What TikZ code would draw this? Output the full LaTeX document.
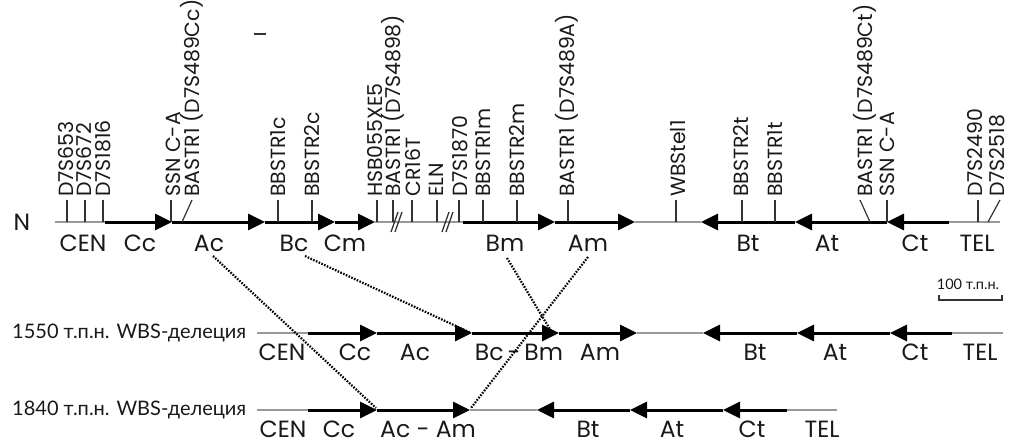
\documentclass[tikz,border=0pt]{standalone}
\usepackage{fontspec}
\setmainfont{Poppins}
\newfontfamily\cyr{Lato}
\usetikzlibrary{arrows.meta}
\tikzset{
  greyline/.style={draw=black!40, line width=1.6pt},
  seg/.style={draw=black, line width=3pt, -{Triangle[length=17pt,width=16pt]}},
  tickline/.style={draw=black!80, line width=1.2pt},
  mlab/.style={font=\fontsize{20.5}{21}\selectfont, rotate=90, anchor=west, inner sep=0pt, text=black!90},
  blab/.style={font=\fontsize{23.5}{24}\selectfont, inner sep=1pt, text=black!90},
  rowlab/.style={font=\cyr\fontsize{20}{20}\selectfont, anchor=west, inner sep=0pt, text=black!90},
  dotline/.style={draw=black, line width=2.2pt, dash pattern=on 1.6pt off 1.4pt},
  slash/.style={draw=black!80, line width=1.3pt}
}
\begin{document}
\begin{tikzpicture}[x=1pt,y=-1pt]
\useasboundingbox (0,0) rectangle (1010,445);
% ---------------- main row (N) ----------------
\node[blab] (N) at (22,222) {N};
\foreach \a/\b in {55/105,375/463,635/701,949/1000}
  \draw[greyline] (\a,222) -- (\b,222);
\foreach \a/\b in {105/172,172/265,265/335,335/375,463/555,555/635,795/701,887/795,949/887}
  \draw[seg] (\a,222) -- (\b,222);
\foreach \x in {67,85,103,171,278,312,377,393,412,437,459,483,517,568,676,742,775,887,978}
  \draw[tickline] (\x,200) -- (\x,222);
\draw[tickline] (192,200) -- (182,222);
\draw[tickline] (860,200) -- (870,222);
\draw[tickline] (1000,200) -- (988,222);
% double slashes
\draw[slash] (391,232) -- (398,212);
\draw[slash] (395,232) -- (402,212);
\draw[slash] (442,232) -- (449,212);
\draw[slash] (446,232) -- (453,212);
% marker labels
\node[mlab] (m1) at (66,197) {D7S653};
\node[mlab] (m2) at (84,197) {D7S672};
\node[mlab] (m3) at (103,197) {D7S1816};
\node[mlab] (m4) at (173,197) {SSN C-A};
\node[mlab] (m5) at (192,197) {BASTR1 (D7S489Cc)};
\node[mlab] (m6) at (278,197) {BBSTR1c};
\node[mlab] (m7) at (312,197) {BBSTR2c};
\node[mlab] (m8) at (375,197) {HSB055XE5};
\node[mlab] (m9) at (393,197) {BASTR1 (D7S4898)};
\node[mlab] (m10) at (413,197) {CR16T};
\node[mlab] (m11) at (436,197) {ELN};
\node[mlab] (m12) at (460,197) {D7S1870};
\node[mlab] (m13) at (483,197) {BBSTR1m};
\node[mlab] (m14) at (517,197) {BBSTR2m};
\node[mlab] (m15) at (567,197) {BASTR1 (D7S489A)};
\node[mlab] (m16) at (678,197) {WBStel1};
\node[mlab] (m17) at (741,197) {BBSTR2t};
\node[mlab] (m18) at (775,197) {BBSTR1t};
\node[mlab] (m19) at (865,197) {BASTR1 (D7S489Ct)};
\node[mlab] (m20) at (887,197) {SSN C-A};
\node[mlab] (m21) at (975,197) {D7S2490};
\node[mlab] (m22) at (997,197) {D7S2518};
% small dash at top
\draw[draw=black!80, line width=2pt] (254,34) -- (266,34);
% segment labels
\node[blab] (aCEN) at (83,243) {CEN};
\node[blab] (aCc) at (140,243) {Cc};
\node[blab] (aAc) at (209,243) {Ac};
\node[blab] (aBc) at (294,243) {Bc};
\node[blab] (aCm) at (345,243) {Cm};
\node[blab] (aBm) at (505,243) {Bm};
\node[blab] (aAm) at (588,243) {Am};
\node[blab] (aBt) at (748,243) {Bt};
\node[blab] (aAt) at (827,243) {At};
\node[blab] (aCt) at (915,243) {Ct};
\node[blab] (aTEL) at (977,243) {TEL};
% ---------------- scale bar ----------------
\node[font=\cyr\fontsize{14.5}{15}\selectfont, text=black!90, inner sep=0pt] (scale) at (968,284) {100 т.п.н.};
\draw[draw=black!80, line width=1.5pt] (939,295) -- (939,300) -- (1002,300) -- (1002,295);
% ---------------- row 2: 1550 ----------------
\node[rowlab] (r2) at (12,333) {1550 т.п.н. WBS-делеция};
\foreach \a/\b in {257/308,637/703,952/1003}
  \draw[greyline] (\a,333) -- (\b,333);
\foreach \a/\b in {308/377,377/472,472/559,559/637,797/703,890/797,952/890}
  \draw[seg] (\a,333) -- (\b,333);
\coordinate (r2Ac) at (471,333);
\coordinate (r2Bc) at (551,331);
\node[blab] (bCEN) at (282,352) {CEN};
\node[blab] (bCc) at (355,352) {Cc};
\node[blab] (bAc) at (415,352) {Ac};
\node[blab] (bBcBm) at (519,352) {Bc\,-\,Bm};
\node[blab] (bAm) at (600,352) {Am};
\node[blab] (bBt) at (755,352) {Bt};
\node[blab] (bAt) at (835,352) {At};
\node[blab] (bCt) at (915,352) {Ct};
\node[blab] (bTEL) at (980,352) {TEL};
% ---------------- row 3: 1840 ----------------
\node[rowlab] (r3) at (12,410) {1840 т.п.н. WBS-делеция};
\foreach \a/\b in {257/308,470/537,787/837}
  \draw[greyline] (\a,410) -- (\b,410);
\foreach \a/\b in {308/377,377/470,630/537,723/630,787/723}
  \draw[seg] (\a,410) -- (\b,410);
\coordinate (r3Cc) at (376,408);
\coordinate (r3Ac) at (471,408);
\node[blab] (cCEN) at (283,429) {CEN};
\node[blab] (cCc) at (339,429) {Cc};
\node[blab] (cAcAm) at (428,429) {Ac - Am};
\node[blab] (cBt) at (588,429) {Bt};
\node[blab] (cAt) at (672,429) {At};
\node[blab] (cCt) at (752,429) {Ct};
\node[blab] (cTEL) at (822,429) {TEL};
% ---------------- dotted connectors ----------------
\coordinate (sAc) at (213,256);
\coordinate (sBc) at (305,256);
\coordinate (sBm) at (507,258);
\coordinate (sAm) at (588,257);
\draw[dotline] (sAc) -- (r3Cc);
\draw[dotline] (sBc) -- (r2Ac);
\draw[dotline] (sBm) -- (r2Bc);
\draw[dotline] (sAm) -- (r3Ac);
\end{tikzpicture}
\end{document}
